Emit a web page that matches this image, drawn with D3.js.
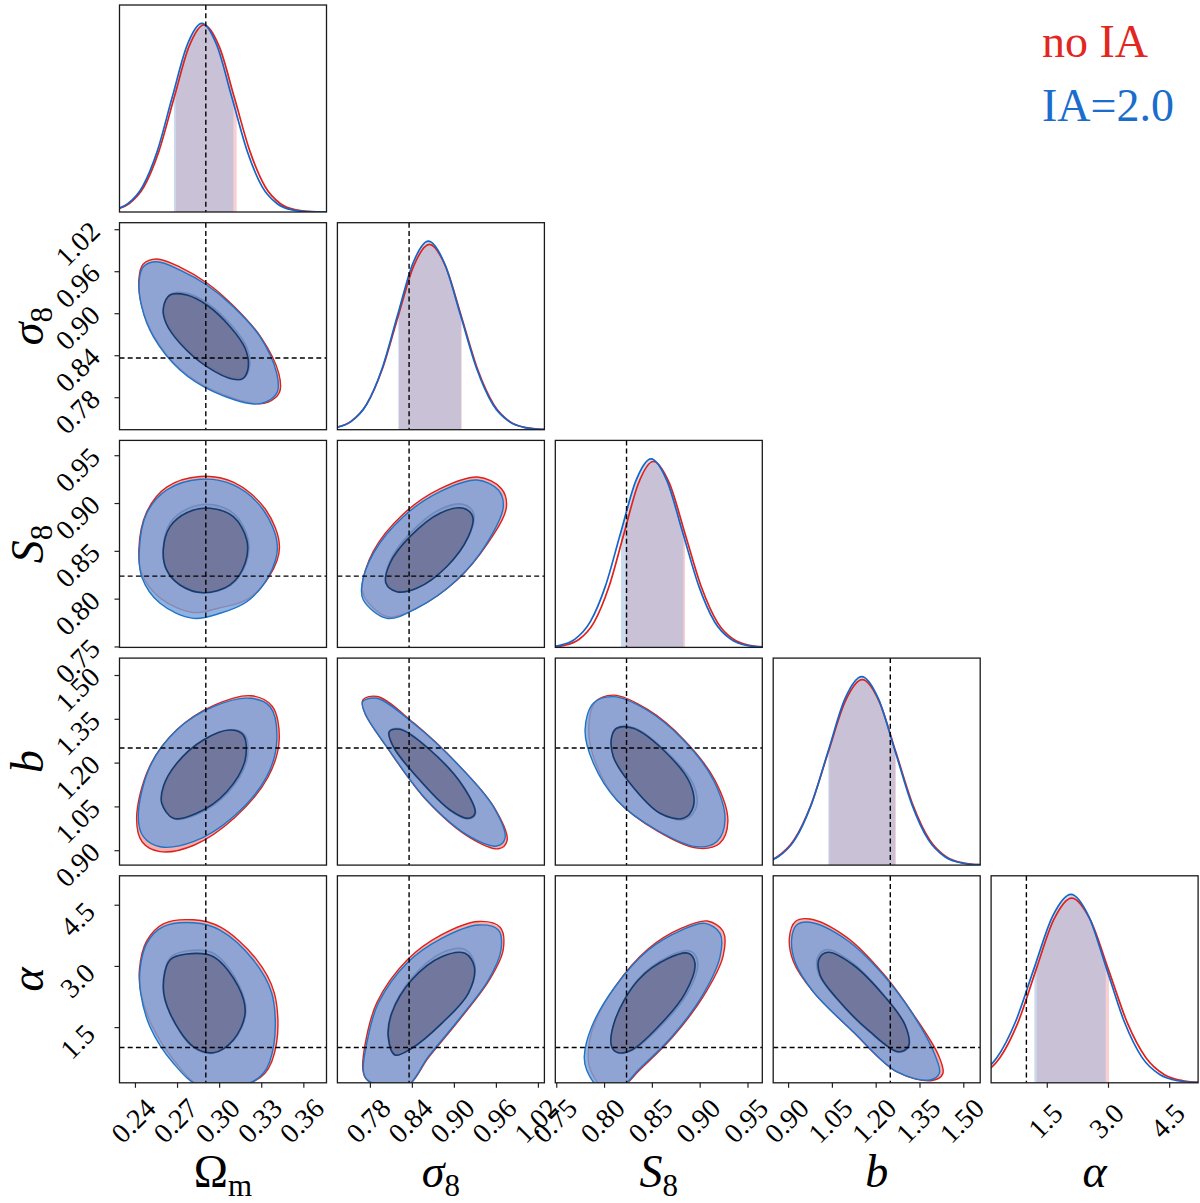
<!DOCTYPE html>
<html>
<head>
<meta charset="utf-8">
<script src="https://cdn.jsdelivr.net/npm/d3@7/dist/d3.min.js"></script>
<style>
  body { margin: 0; background: #fff; }
  svg { display: block; }
  text { font-family: "Liberation Serif", "Times New Roman", serif; }
</style>
</head>
<body>
<svg id="corner" width="1200" height="1203"></svg>
<script>
"use strict";

// parameter order: Omega_m, sigma_8, S_8, b, alpha
const DOMAINS = [[0.229, 0.3765], [0.7336, 1.0293], [0.749, 0.9655], [0.849, 1.5579], [0.135, 5.209]];
const TRUTH = [0.2905, 0.836, 0.8235, 1.25, 1.0];
const TICKS = [
    [0.24, 0.27, 0.30, 0.33, 0.36],
    [0.78, 0.84, 0.90, 0.96, 1.02],
    [0.75, 0.80, 0.85, 0.90, 0.95],
    [0.90, 1.05, 1.20, 1.35, 1.50],
    [1.5, 3.0, 4.5]
];
const TICK_LABELS = [
    ["0.24", "0.27", "0.30", "0.33", "0.36"],
    ["0.78", "0.84", "0.90", "0.96", "1.02"],
    ["0.75", "0.80", "0.85", "0.90", "0.95"],
    ["0.90", "1.05", "1.20", "1.35", "1.50"],
    ["1.5", "3.0", "4.5"]
];
const AXIS_NAMES = ["Ω", "σ", "S", "b", "α"];
const AXIS_SUBS = ["m", "8", "8", "", ""];
const AXIS_ITALIC = [false, true, true, true, true];
const LEGEND_LABELS = ["no IA", "IA=2.0"];

// 1D marginals: [value, height relative to blue peak]
const omBlue1d = [[0.2138,0.002],[0.2243,0.011],[0.2349,0.044],[0.2454,0.135],[0.2560,0.325],[0.2665,0.607],[0.2771,0.883],[0.2876,1.0],[0.2984,0.883],[0.3091,0.607],[0.3199,0.325],[0.3306,0.135],[0.3414,0.044],[0.3521,0.011],[0.3629,0.002],[0.3736,0.0003],[0.3844,0]];
const omRed1d = [[0.2143,0.002],[0.2250,0.011],[0.2357,0.044],[0.2464,0.134],[0.2571,0.323],[0.2678,0.603],[0.2785,0.877],[0.2892,0.993],[0.3001,0.877],[0.3110,0.603],[0.3219,0.323],[0.3328,0.134],[0.3437,0.044],[0.3546,0.011],[0.3655,0.002],[0.3764,0.0003],[0.3873,0]];
const sigBlue1d = [[0.7095,0.002],[0.7315,0.011],[0.7535,0.044],[0.7755,0.135],[0.7975,0.325],[0.8195,0.607],[0.8415,0.883],[0.8635,1.0],[0.8865,0.883],[0.9095,0.607],[0.9325,0.325],[0.9555,0.135],[0.9785,0.044],[1.0015,0.011],[1.0245,0.002],[1.0475,0.0003]];
const sigRed1d = [[0.7075,0.002],[0.7300,0.011],[0.7525,0.043],[0.7750,0.133],[0.7975,0.319],[0.8200,0.597],[0.8425,0.868],[0.8650,0.983],[0.8880,0.868],[0.9110,0.597],[0.9340,0.319],[0.9570,0.133],[0.9800,0.043],[1.0030,0.011],[1.0260,0.002],[1.0490,0.0003]];
const s8Blue1d = [[0.7378,0.002],[0.7537,0.011],[0.7696,0.044],[0.7855,0.135],[0.8014,0.325],[0.8173,0.607],[0.8332,0.883],[0.8491,1.0],[0.8658,0.883],[0.8824,0.607],[0.8991,0.325],[0.9157,0.135],[0.9324,0.044],[0.9490,0.011],[0.9657,0.002],[0.9823,0.0003]];
const s8Red1d = [[0.7430,0.002],[0.7585,0.011],[0.7740,0.043],[0.7895,0.133],[0.8050,0.320],[0.8205,0.598],[0.8360,0.871],[0.8515,0.986],[0.8683,0.871],[0.8850,0.598],[0.9018,0.320],[0.9185,0.133],[0.9353,0.043],[0.9520,0.011],[0.9688,0.002],[0.9855,0.0003]];
const bBlue1d = [[0.7517,0.002],[0.8089,0.011],[0.8661,0.044],[0.9233,0.135],[0.9805,0.325],[1.0377,0.607],[1.0949,0.883],[1.1521,1.0],[1.2091,0.883],[1.2661,0.607],[1.3231,0.325],[1.3801,0.135],[1.4371,0.044],[1.4941,0.011],[1.5511,0.002],[1.6081,0.0003]];
const bRed1d = [[0.7446,0.002],[0.8031,0.011],[0.8616,0.043],[0.9201,0.133],[0.9786,0.320],[1.0371,0.597],[1.0956,0.869],[1.1541,0.984],[1.2118,0.869],[1.2695,0.597],[1.3272,0.320],[1.3849,0.133],[1.4426,0.043],[1.5003,0.011],[1.5580,0.002],[1.6157,0.0003]];
const alBlue1d = [[-1.0745,0.002],[-0.622,0.011],[-0.1695,0.044],[0.283,0.135],[0.7355,0.325],[1.188,0.607],[1.6405,0.883],[2.093,1.0],[2.528,0.883],[2.963,0.607],[3.398,0.325],[3.833,0.135],[4.268,0.044],[4.703,0.011],[5.138,0.002],[5.573,0.0003]];
const alRed1d = [[-0.970,0.002],[-0.530,0.011],[-0.090,0.043],[0.350,0.133],[0.790,0.318],[1.230,0.595],[1.670,0.865],[2.110,0.980],[2.565,0.865],[3.020,0.595],[3.475,0.318],[3.930,0.133],[4.385,0.043],[4.840,0.011],[5.295,0.002],[5.750,0.0003]];

// 68% intervals shaded under the marginals
const omBandBlue = [0.2678, 0.3101], omBandRed = [0.2691, 0.3125];
const sigBandBlue = [0.8206, 0.9102], sigBandRed = [0.8215, 0.9112];
const s8BandBlue = [0.8177, 0.8829], s8BandRed = [0.8226, 0.8847];
const bBandBlue = [1.0377, 1.2661], bBandRed = [1.0411, 1.2695];
const alBandBlue = [1.194, 2.944], alBandRed = [1.253, 3.025];

// 2D contours (outer = 95%, inner = 68%), points [x value, y value]
const omSigBlueOuter = [[0.2431,0.9475],[0.2460,0.9665],[0.2555,0.9736],[0.2721,0.9617],[0.2912,0.9403],[0.3101,0.9093],[0.3291,0.8665],[0.3410,0.8142],[0.3415,0.7879],[0.3339,0.7736],[0.3244,0.7703],[0.2959,0.7879],[0.2721,0.8189],[0.2531,0.8665],[0.2448,0.9093]];
const omSigRedOuter = [[0.2428,0.9480],[0.2458,0.9700],[0.2555,0.9775],[0.2725,0.9655],[0.2918,0.9425],[0.3105,0.9100],[0.3295,0.8665],[0.3425,0.8140],[0.3430,0.7870],[0.3350,0.7730],[0.3248,0.7712],[0.2962,0.7895],[0.2724,0.8200],[0.2536,0.8670],[0.2450,0.9095]];
const omSigBlueInner = [[0.2602,0.9070],[0.2650,0.9260],[0.2769,0.9260],[0.2912,0.9117],[0.3078,0.8807],[0.3185,0.8499],[0.3208,0.8236],[0.3172,0.8070],[0.3101,0.8056],[0.2912,0.8236],[0.2721,0.8570],[0.2622,0.8856]];
const omSigRedInner = [[0.2610,0.9090],[0.2660,0.9280],[0.2779,0.9280],[0.2922,0.9137],[0.3088,0.8827],[0.3195,0.8519],[0.3218,0.8256],[0.3182,0.8090],[0.3111,0.8076],[0.2922,0.8256],[0.2731,0.8590],[0.2632,0.8876]];

const omS8BlueOuter = [[0.2431,0.8509],[0.2484,0.8893],[0.2626,0.9136],[0.2864,0.9248],[0.3101,0.9189],[0.3315,0.8927],[0.3415,0.8543],[0.3351,0.8230],[0.3197,0.7968],[0.3006,0.7847],[0.2816,0.7794],[0.2579,0.7951],[0.2448,0.8230]];
const omS8RedOuter = [[0.2428,0.8509],[0.2482,0.8900],[0.2626,0.9166],[0.2864,0.9278],[0.3105,0.9215],[0.3330,0.8935],[0.3430,0.8543],[0.3358,0.8235],[0.3197,0.7990],[0.3006,0.7905],[0.2816,0.7855],[0.2585,0.8000],[0.2452,0.8250]];
const omS8BlueInner = [[0.2602,0.8509],[0.2650,0.8753],[0.2769,0.8899],[0.2935,0.8945],[0.3101,0.8857],[0.3197,0.8613],[0.3185,0.8370],[0.3078,0.8143],[0.2887,0.8062],[0.2721,0.8143],[0.2626,0.8300]];
const omS8RedInner = [[0.2600,0.8515],[0.2650,0.8790],[0.2775,0.8940],[0.2940,0.8985],[0.3108,0.8885],[0.3207,0.8620],[0.3192,0.8370],[0.3082,0.8140],[0.2887,0.8060],[0.2718,0.8145],[0.2622,0.8305]];

const sigS8BlueOuter = [[0.7683,0.8125],[0.7706,0.7986],[0.8040,0.7794],[0.8469,0.7899],[0.9040,0.8195],[0.9469,0.8579],[0.9706,0.8962],[0.9635,0.9136],[0.9326,0.9241],[0.8802,0.9119],[0.8277,0.8857],[0.7849,0.8474]];
const sigS8RedOuter = [[0.7690,0.8130],[0.7735,0.8000],[0.8060,0.7810],[0.8475,0.7905],[0.9045,0.8195],[0.9480,0.8575],[0.9750,0.8955],[0.9680,0.9150],[0.9340,0.9272],[0.8805,0.9150],[0.8270,0.8880],[0.7845,0.8490]];
const sigS8BlueInner = [[0.8030,0.8160],[0.8183,0.8073],[0.8469,0.8108],[0.8897,0.8334],[0.9206,0.8648],[0.9269,0.8857],[0.9135,0.8945],[0.8802,0.8893],[0.8373,0.8648],[0.8087,0.8370]];
const sigS8RedInner = [[0.8035,0.8170],[0.8190,0.8080],[0.8475,0.8115],[0.8905,0.8345],[0.9220,0.8665],[0.9285,0.8885],[0.9145,0.8985],[0.8805,0.8935],[0.8370,0.8680],[0.8085,0.8390]];

const omBBlueOuter = [[0.2424,1.0148],[0.2460,0.9463],[0.2579,0.9120],[0.2816,0.9291],[0.3101,1.0148],[0.3339,1.1518],[0.3411,1.2775],[0.3363,1.3915],[0.3220,1.4203],[0.2959,1.3915],[0.2698,1.3117],[0.2507,1.1860]];
const omBRedOuter = [[0.2412,1.0100],[0.2452,0.9280],[0.2579,0.8950],[0.2820,0.9170],[0.3108,1.0100],[0.3348,1.1500],[0.3428,1.2780],[0.3378,1.3930],[0.3228,1.4290],[0.2962,1.3960],[0.2700,1.3130],[0.2503,1.1850]];
const omBBlueInner = [[0.2591,1.0607],[0.2674,1.0093],[0.2840,1.0264],[0.3054,1.1004],[0.3185,1.2090],[0.3172,1.2946],[0.3078,1.3117],[0.2887,1.2775],[0.2698,1.1977],[0.2602,1.1175]];
const omBRedInner = [[0.2603,1.0590],[0.2686,1.0070],[0.2852,1.0245],[0.3066,1.0990],[0.3197,1.2085],[0.3184,1.2950],[0.3090,1.3130],[0.2899,1.2790],[0.2710,1.1985],[0.2614,1.1170]];

const sigBBlueOuter = [[0.7697,1.4086],[0.7897,1.4203],[0.8420,1.3347],[0.9040,1.1977],[0.9563,1.0490],[0.9730,0.9408],[0.9612,0.9144],[0.9230,0.9463],[0.8612,1.0720],[0.8040,1.2545],[0.7730,1.3689]];
const sigBRedOuter = [[0.7700,1.4150],[0.7905,1.4265],[0.8425,1.3360],[0.9045,1.1970],[0.9575,1.0470],[0.9760,0.9330],[0.9640,0.9050],[0.9235,0.9420],[0.8612,1.0700],[0.8040,1.2540],[0.7728,1.3700]];
const sigBBlueInner = [[0.8077,1.3059],[0.8230,1.3141],[0.8659,1.2432],[0.9135,1.1175],[0.9302,1.0264],[0.9206,1.0093],[0.8945,1.0377],[0.8469,1.1518],[0.8135,1.2545]];
const sigBRedInner = [[0.8080,1.3085],[0.8235,1.3165],[0.8665,1.2440],[0.9140,1.1170],[0.9310,1.0240],[0.9212,1.0070],[0.8945,1.0360],[0.8465,1.1515],[0.8130,1.2555]];

const s8BBlueOuter = [[0.7801,1.3117],[0.7888,1.4032],[0.8097,1.4258],[0.8446,1.3802],[0.8829,1.2775],[0.9143,1.1405],[0.9265,1.0035],[0.9178,0.9291],[0.8969,0.9120],[0.8551,0.9692],[0.8132,1.0720],[0.7888,1.1977]];
const s8BRedOuter = [[0.7840,1.3100],[0.7905,1.4060],[0.8100,1.4310],[0.8455,1.3820],[0.8840,1.2770],[0.9160,1.1390],[0.9295,0.9990],[0.9208,0.9230],[0.8975,0.9070],[0.8555,0.9660],[0.8140,1.0700],[0.7915,1.1960]];
const s8BBlueInner = [[0.8080,1.2888],[0.8132,1.3175],[0.8306,1.3175],[0.8620,1.2432],[0.8899,1.1292],[0.8933,1.0490],[0.8829,1.0093],[0.8585,1.0264],[0.8271,1.1292],[0.8097,1.2203]];
const s8BRedInner = [[0.8085,1.2900],[0.8137,1.3200],[0.8315,1.3195],[0.8632,1.2440],[0.8930,1.1280],[0.8965,1.0470],[0.8850,1.0060],[0.8595,1.0240],[0.8275,1.1290],[0.8100,1.2210]];

const omAlBlueOuter = [[0.2436,2.900],[0.2484,3.554],[0.2602,3.961],[0.2816,4.059],[0.3006,3.880],[0.3244,3.145],[0.3375,2.329],[0.3391,1.103],[0.3315,0.368],[0.3149,0.05],[0.2864,0.05],[0.2674,0.613],[0.2507,1.510],[0.2441,2.329]];
const omAlRedOuter = [[0.2432,2.910],[0.2482,3.600],[0.2602,4.030],[0.2816,4.130],[0.3010,3.950],[0.3262,3.180],[0.3393,2.340],[0.3409,1.100],[0.3325,0.360],[0.3155,0.05],[0.2868,0.05],[0.2689,0.640],[0.2522,1.530],[0.2443,2.330]];
const omAlBlueInner = [[0.2602,2.490],[0.2650,3.145],[0.2769,3.292],[0.2959,3.226],[0.3137,2.490],[0.3185,1.838],[0.3101,1.184],[0.2959,0.873],[0.2816,1.020],[0.2650,1.838]];
const omAlRedInner = [[0.2600,2.500],[0.2652,3.200],[0.2775,3.370],[0.2965,3.300],[0.3143,2.520],[0.3190,1.840],[0.3103,1.170],[0.2955,0.860],[0.2812,1.010],[0.2648,1.840]];

const sigAlBlueOuter = [[0.7706,0.449],[0.7755,1.103],[0.7920,2.084],[0.8349,3.103],[0.8826,3.677],[0.9349,4.003],[0.9635,3.880],[0.9673,3.390],[0.9492,2.655],[0.9063,1.674],[0.8635,0.775],[0.8326,0.05],[0.7969,0.05],[0.7755,0.221]];
const sigAlRedOuter = [[0.7700,0.449],[0.7735,1.110],[0.7900,2.100],[0.8335,3.150],[0.8820,3.760],[0.9350,4.090],[0.9660,3.950],[0.9705,3.400],[0.9505,2.650],[0.9070,1.660],[0.8640,0.760],[0.8330,0.05],[0.7965,0.05],[0.7750,0.221]];
const sigAlBlueInner = [[0.8063,1.265],[0.8112,1.838],[0.8397,2.655],[0.8826,3.226],[0.9159,3.309],[0.9292,2.981],[0.9206,2.329],[0.8826,1.593],[0.8397,0.981],[0.8159,0.816]];
const sigAlRedInner = [[0.8060,1.270],[0.8110,1.860],[0.8395,2.700],[0.8826,3.320],[0.9165,3.400],[0.9300,3.020],[0.9210,2.340],[0.8828,1.590],[0.8395,0.975],[0.8155,0.815]];

const s8AlBlueOuter = [[0.7793,0.775],[0.7871,1.510],[0.8115,2.490],[0.8463,3.390],[0.8812,3.880],[0.9056,4.044],[0.9213,3.799],[0.9213,3.226],[0.9021,2.245],[0.8708,1.265],[0.8358,0.449],[0.8185,0.05],[0.7940,0.05],[0.7818,0.449]];
const s8AlRedOuter = [[0.7833,0.775],[0.7890,1.520],[0.8118,2.500],[0.8463,3.420],[0.8815,3.930],[0.9080,4.100],[0.9245,3.850],[0.9245,3.240],[0.9035,2.240],[0.8715,1.250],[0.8365,0.430],[0.8190,0.05],[0.7980,0.05],[0.7858,0.449]];
const s8AlBlueInner = [[0.8080,1.020],[0.8115,1.674],[0.8358,2.655],[0.8672,3.186],[0.8881,3.309],[0.8951,3.064],[0.8847,2.329],[0.8533,1.429],[0.8289,0.939],[0.8149,0.873]];
const s8AlRedInner = [[0.8082,1.020],[0.8118,1.690],[0.8362,2.690],[0.8680,3.240],[0.8905,3.360],[0.8980,3.080],[0.8870,2.320],[0.8545,1.410],[0.8292,0.925],[0.8150,0.865]];

const bAlBlueOuter = [[0.9124,3.677],[0.9295,4.003],[0.9750,4.069],[1.1007,3.635],[1.2261,2.777],[1.3288,1.797],[1.4032,0.816],[1.4179,0.368],[1.3860,0.204],[1.2720,0.407],[1.1233,1.387],[0.9863,2.368],[0.9237,3.103]];
const bAlRedOuter = [[0.9044,3.690],[0.9250,4.090],[0.9750,4.150],[1.1010,3.700],[1.2270,2.800],[1.3300,1.800],[1.4150,0.810],[1.4300,0.360],[1.3930,0.190],[1.2730,0.400],[1.1230,1.380],[0.9855,2.370],[0.9180,3.110]];
const bAlBlueInner = [[1.0069,3.186],[1.0377,3.334],[1.1233,3.022],[1.2261,2.287],[1.3004,1.552],[1.3117,1.020],[1.2775,0.897],[1.1805,1.387],[1.0665,2.206],[1.0093,2.777]];
const bAlRedInner = [[1.0020,3.220],[1.0330,3.400],[1.1200,3.080],[1.2250,2.310],[1.3010,1.560],[1.3125,1.010],[1.2780,0.880],[1.1800,1.370],[1.0650,2.200],[1.0050,2.790]];

// tables built from the arrays above
const MARGINALS = [
    { blue: omBlue1d, red: omRed1d, blueBand: omBandBlue, redBand: omBandRed },
    { blue: sigBlue1d, red: sigRed1d, blueBand: sigBandBlue, redBand: sigBandRed },
    { blue: s8Blue1d, red: s8Red1d, blueBand: s8BandBlue, redBand: s8BandRed },
    { blue: bBlue1d, red: bRed1d, blueBand: bBandBlue, redBand: bBandRed },
    { blue: alBlue1d, red: alRed1d, blueBand: alBandBlue, redBand: alBandRed }
];
const PAIRS = [
    { row: 1, col: 0, red: [omSigRedOuter, omSigRedInner], blue: [omSigBlueOuter, omSigBlueInner] },
    { row: 2, col: 0, red: [omS8RedOuter, omS8RedInner], blue: [omS8BlueOuter, omS8BlueInner] },
    { row: 2, col: 1, red: [sigS8RedOuter, sigS8RedInner], blue: [sigS8BlueOuter, sigS8BlueInner] },
    { row: 3, col: 0, red: [omBRedOuter, omBRedInner], blue: [omBBlueOuter, omBBlueInner] },
    { row: 3, col: 1, red: [sigBRedOuter, sigBRedInner], blue: [sigBBlueOuter, sigBBlueInner] },
    { row: 3, col: 2, red: [s8BRedOuter, s8BRedInner], blue: [s8BBlueOuter, s8BBlueInner] },
    { row: 4, col: 0, red: [omAlRedOuter, omAlRedInner], blue: [omAlBlueOuter, omAlBlueInner] },
    { row: 4, col: 1, red: [sigAlRedOuter, sigAlRedInner], blue: [sigAlBlueOuter, sigAlBlueInner] },
    { row: 4, col: 2, red: [s8AlRedOuter, s8AlRedInner], blue: [s8AlBlueOuter, s8AlBlueInner] },
    { row: 4, col: 3, red: [bAlRedOuter, bAlRedInner], blue: [bAlBlueOuter, bAlBlueInner] }
];

// layout
const SIZE = 207;
const LEFT0 = 119.5, TOP0 = 5, STEP_X = 217.9, STEP_Y = 217.7;
const Y1D_MAX = 1.098;
const N = 5;

const RED = {
    line: "#e1221c", band: "rgb(235,120,130)", bandOpacity: 0.35,
    outerFill: "rgb(240,110,110)", outerOpacity: 0.55, outerLine: "#d9241e",
    innerFill: "rgb(110,50,80)", innerOpacity: 0.3, innerLine: "#6a2a3d"
};
const BLUE = {
    line: "#1566c8", band: "rgb(144,175,218)", bandOpacity: 0.45,
    outerFill: "rgb(116,161,219)", outerOpacity: 0.8, outerLine: "#1f74c6",
    innerFill: "rgb(111,113,148)", innerOpacity: 0.85, innerLine: "#163b6e"
};

function panelLeft(j) { return LEFT0 + j * STEP_X; }
function panelTop(i) { return TOP0 + i * STEP_Y; }
function xScaleFor(j) {
    return d3.scaleLinear().domain(DOMAINS[j]).range([panelLeft(j), panelLeft(j) + SIZE]);
}
function yScaleFor(i) {
    return d3.scaleLinear().domain(DOMAINS[i]).range([panelTop(i) + SIZE, panelTop(i)]);
}

const svg = d3.select("#corner");
const defs = svg.append("defs");

function addClip(id, x, y, w, h) {
    defs.append("clipPath").attr("id", id)
        .append("rect").attr("x", x).attr("y", y).attr("width", w).attr("height", h);
    return `url(#${id})`;
}

function drawTruth(g, i, j, xs, ys) {
    g.append("line")
        .attr("x1", xs(TRUTH[j])).attr("x2", xs(TRUTH[j]))
        .attr("y1", panelTop(i)).attr("y2", panelTop(i) + SIZE)
        .attr("stroke", "#000").attr("stroke-width", 1.4).attr("stroke-dasharray", "5,3.2");
    if (ys) {
        g.append("line")
            .attr("x1", panelLeft(j)).attr("x2", panelLeft(j) + SIZE)
            .attr("y1", ys(TRUTH[i])).attr("y2", ys(TRUTH[i]))
            .attr("stroke", "#000").attr("stroke-width", 1.4).attr("stroke-dasharray", "5,3.2");
    }
}

function drawFrame(i, j) {
    svg.append("rect")
        .attr("x", panelLeft(j)).attr("y", panelTop(i))
        .attr("width", SIZE).attr("height", SIZE)
        .attr("fill", "none").attr("stroke", "#1a1a1a").attr("stroke-width", 1.3);
}

// diagonal: marginals
function drawMarginal(k) {
    let xs = xScaleFor(k);
    let ys = d3.scaleLinear().domain([0, Y1D_MAX]).range([panelTop(k) + SIZE, panelTop(k)]);
    let clip = addClip(`clip-${k}-${k}`, panelLeft(k), panelTop(k), SIZE, SIZE);
    let g = svg.append("g").attr("clip-path", clip);
    let m = MARGINALS[k];

    let area = d3.area().x(d => xs(d[0])).y0(ys(0)).y1(d => ys(d[1])).curve(d3.curveMonotoneX);
    let line = d3.line().x(d => xs(d[0])).y(d => ys(d[1])).curve(d3.curveMonotoneX);

    [["red", RED], ["blue", BLUE]].forEach(([key, style]) => {
        let band = m[key + "Band"];
        let bandClip = addClip(`band-${k}-${key}`, xs(band[0]), panelTop(k), xs(band[1]) - xs(band[0]), SIZE);
        g.append("g").attr("clip-path", bandClip)
            .append("path").datum(m[key])
            .attr("d", area)
            .attr("fill", style.band).attr("fill-opacity", style.bandOpacity);
    });
    [["red", RED], ["blue", BLUE]].forEach(([key, style]) => {
        g.append("path").datum(m[key])
            .attr("d", line)
            .attr("fill", "none").attr("stroke", style.line).attr("stroke-width", 1.7);
    });
    drawTruth(g, k, k, xs, null);
    drawFrame(k, k);
}

// off-diagonal: contours
function drawPair(p) {
    let xs = xScaleFor(p.col), ys = yScaleFor(p.row);
    let clip = addClip(`clip-${p.row}-${p.col}`, panelLeft(p.col), panelTop(p.row), SIZE, SIZE);
    let g = svg.append("g").attr("clip-path", clip);
    let shape = d3.line().x(d => xs(d[0])).y(d => ys(d[1])).curve(d3.curveCatmullRomClosed.alpha(0.5));

    [[p.red, RED], [p.blue, BLUE]].forEach(([levels, style]) => {
        g.append("path").datum(levels[0]).attr("d", shape)
            .attr("fill", style.outerFill).attr("fill-opacity", style.outerOpacity).attr("stroke", "none");
        g.append("path").datum(levels[1]).attr("d", shape)
            .attr("fill", style.innerFill).attr("fill-opacity", style.innerOpacity).attr("stroke", "none");
        g.append("path").datum(levels[0]).attr("d", shape)
            .attr("fill", "none").attr("stroke", style.outerLine).attr("stroke-width", 1.4);
        g.append("path").datum(levels[1]).attr("d", shape)
            .attr("fill", "none").attr("stroke", style.innerLine).attr("stroke-width", 1.6);
    });
    drawTruth(g, p.row, p.col, xs, ys);
    drawFrame(p.row, p.col);
}

function styleTicks(g) {
    g.attr("font-size", 28).attr("font-family", '"Liberation Serif", "Times New Roman", serif');
    g.select(".domain").remove();
    g.selectAll(".tick line").attr("stroke", "#222").attr("stroke-width", 1.2);
    g.selectAll(".tick text")
        .attr("x", null).attr("y", null).attr("dy", null)
        .attr("fill", "#000")
        .attr("text-anchor", "middle")
        .attr("dominant-baseline", "central");
}

function buildAxes() {
    // bottom row x axes
    for (let j = 0; j < N; j++) {
        let g = svg.append("g")
            .attr("transform", `translate(0, ${panelTop(N - 1) + SIZE})`)
            .call(d3.axisBottom(xScaleFor(j)).tickValues(TICKS[j]).tickSize(5)
                .tickFormat((d, k) => TICK_LABELS[j][k]));
        styleTicks(g);
        g.selectAll(".tick text").attr("transform", "translate(-2, 38) rotate(-45)");
    }
    // left column y axes
    for (let i = 1; i < N; i++) {
        let g = svg.append("g")
            .attr("transform", `translate(${panelLeft(0)}, 0)`)
            .call(d3.axisLeft(yScaleFor(i)).tickValues(TICKS[i]).tickSize(5)
                .tickFormat((d, k) => TICK_LABELS[i][k]));
        styleTicks(g);
        g.selectAll(".tick text").attr("transform", "translate(-42, 14) rotate(-45)");
    }
}

function addAxisLabel(k, transform) {
    let t = svg.append("text")
        .attr("transform", transform)
        .attr("text-anchor", "middle")
        .attr("font-size", 46)
        .attr("fill", "#000");
    t.append("tspan").attr("font-style", AXIS_ITALIC[k] ? "italic" : "normal").text(AXIS_NAMES[k]);
    if (AXIS_SUBS[k]) {
        t.append("tspan").attr("font-size", 31).attr("dy", 9).text(AXIS_SUBS[k]);
    }
}

function buildLabels() {
    for (let j = 0; j < N; j++) {
        addAxisLabel(j, `translate(${panelLeft(j) + SIZE / 2}, 1187)`);
    }
    for (let i = 1; i < N; i++) {
        addAxisLabel(i, `translate(43, ${panelTop(i) + SIZE / 2}) rotate(-90)`);
    }
    svg.append("text").attr("x", 1042).attr("y", 57).attr("font-size", 46)
        .attr("fill", "#e3261f").text(LEGEND_LABELS[0]);
    svg.append("text").attr("x", 1042).attr("y", 121).attr("font-size", 46)
        .attr("fill", "#1a6dcc").text(LEGEND_LABELS[1]);
}

for (let k = 0; k < N; k++) { drawMarginal(k); }
PAIRS.forEach(drawPair);
buildAxes();
buildLabels();
</script>
</body>
</html>
